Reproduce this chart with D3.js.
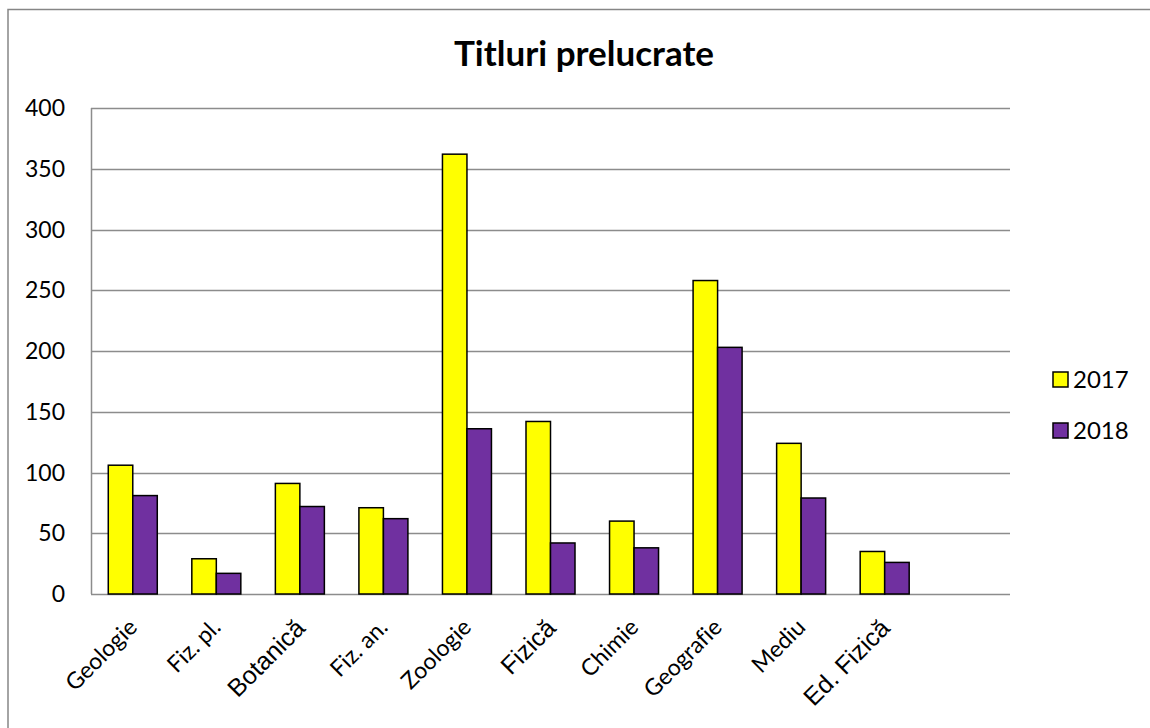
<!DOCTYPE html>
<html>
<head>
<meta charset="utf-8">
<title>Titluri prelucrate</title>
<script src="https://d3js.org/d3.v7.min.js"></script>
<style>
  body { margin: 0; background: #fff; }
  text { font-family: Lato, "Open Sans", sans-serif; fill: #000; font-variant-ligatures: none; }
</style>
</head>
<body>
<script>
// data
var categories = ["Geologie", "Fiz. pl.", "Botanică", "Fiz. an.", "Zoologie", "Fizică",
                  "Chimie", "Geografie", "Mediu", "Ed. Fizică", ""];
var years = ["2017", "2018"];
var values2017 = [106, 29, 91, 71, 362, 142, 60, 258, 124, 35, null];
var values2018 = [81, 17, 72, 62, 136, 42, 38, 203, 79, 26, null];
var yTicks = [0, 50, 100, 150, 200, 250, 300, 350, 400];
// labels that the original renders in an Arial-like face
var arialLabels = ["Botanică", "Fizică", "Ed. Fizică"];

var colors = { "2017": "#ffff00", "2018": "#7030a0" };

var W = 1150, H = 728;
var x0 = 91, x1 = 1010, yTop = 108, yBot = 594;

var svg = d3.select("body").append("svg").attr("width", W).attr("height", H);

// outer chart border
svg.append("rect")
  .attr("x", 8).attr("y", 9.5)
  .attr("width", W + 10).attr("height", H + 10)
  .attr("fill", "none").attr("stroke", "#868686").attr("stroke-width", 1.5);

var x = d3.scaleBand().domain(categories).range([x0, x1]);
var y = d3.scaleLinear().domain([0, 400]).range([yBot, yTop]);
var barW = 24.5;
var xs = d3.scaleBand().domain(years).range([0, barW * 2]);

// gridlines
svg.append("g").selectAll("line").data(yTicks).enter().append("line")
  .attr("x1", x0).attr("x2", x1)
  .attr("y1", function(d) { return Math.round(y(d)) + 0.5; })
  .attr("y2", function(d) { return Math.round(y(d)) + 0.5; })
  .attr("stroke", "#8c8c8c").attr("stroke-width", 1.5);

// y axis line
svg.append("line")
  .attr("x1", x0 + 0.5).attr("x2", x0 + 0.5)
  .attr("y1", yTop).attr("y2", yBot)
  .attr("stroke", "#8c8c8c").attr("stroke-width", 1.5);

// y tick labels
svg.append("g").selectAll("text").data(yTicks).enter().append("text")
  .attr("x", 65)
  .attr("y", function(d) { return y(d) + 8; })
  .attr("text-anchor", "end")
  .style("font-size", "23px")
  .text(function(d) { return d; });

// bars
var series = [values2017, values2018];
series.forEach(function(vals, si) {
  var yr = years[si];
  svg.append("g").selectAll("rect")
    .data(vals.map(function(v, i) { return { cat: categories[i], v: v }; })
               .filter(function(d) { return d.v != null; }))
    .enter().append("rect")
    .attr("x", function(d) { return x(d.cat) + x.bandwidth() / 2 - barW + xs(yr); })
    .attr("y", function(d) { return y(d.v); })
    .attr("width", xs.bandwidth())
    .attr("height", function(d) { return yBot - y(d.v); })
    .attr("fill", colors[yr])
    .attr("stroke", "#000").attr("stroke-width", 1.5);
});

// x labels, rotated
svg.append("g").selectAll("text").data(categories.filter(function(c) { return c; }))
  .enter().append("text")
  .attr("transform", function(d) {
    return "translate(" + (x(d) + x.bandwidth() / 2 - 6) + "," + (yBot + 23) + ") rotate(-45)";
  })
  .attr("text-anchor", "end")
  .attr("dy", "0.72em")
  .style("font-family", function(d) {
    return arialLabels.indexOf(d) >= 0 ? "'Liberation Sans', Arial, sans-serif" : null;
  })
  .style("font-size", function(d) { return arialLabels.indexOf(d) >= 0 ? "25px" : "23px"; })
  .text(function(d) { return d; });

// title
svg.append("text")
  .attr("x", 584).attr("y", 66)
  .attr("text-anchor", "middle")
  .style("font-size", "35px").style("font-weight", "bold")
  .text("Titluri prelucrate");

// legend
var legend = svg.append("g").selectAll("g").data(years).enter().append("g")
  .attr("transform", function(d, i) { return "translate(1053," + (372 + i * 51) + ")"; });
legend.append("rect")
  .attr("width", 15).attr("height", 15)
  .attr("fill", function(d) { return colors[d]; })
  .attr("stroke", "#000").attr("stroke-width", 1.5);
legend.append("text")
  .attr("x", 20).attr("y", 16)
  .style("font-size", "24px")
  .text(function(d) { return d; });
</script>
</body>
</html>
